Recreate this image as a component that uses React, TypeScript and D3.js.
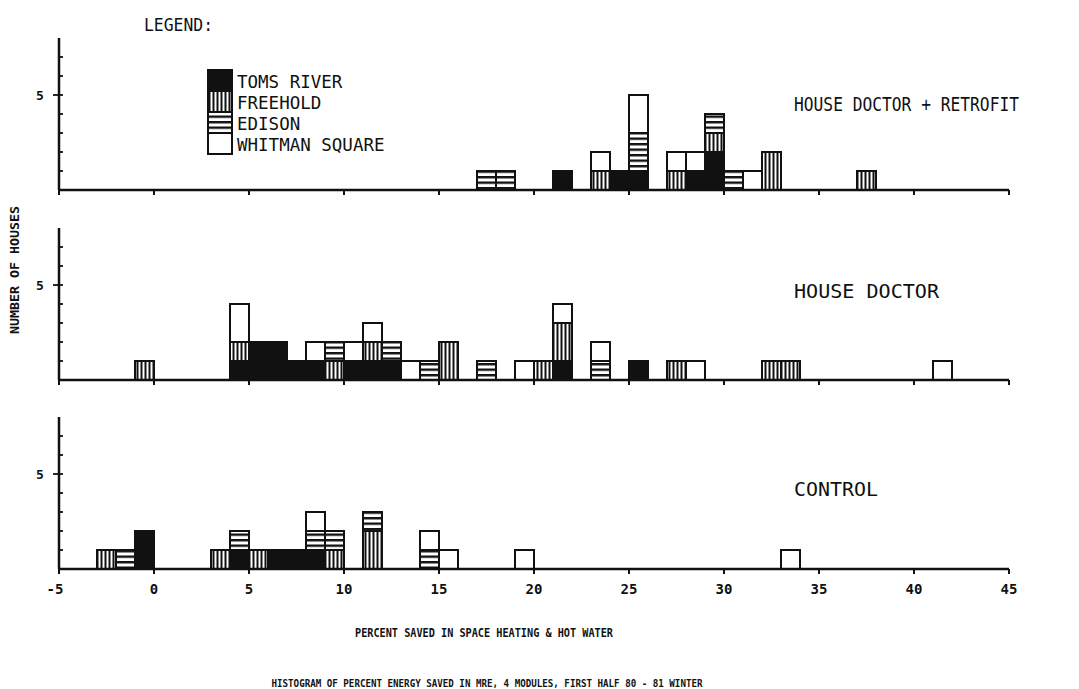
import React, { useEffect, useRef } from "react";
import * as d3 from "d3";

// stacking order, bottom to top
const cityKeys = ["toms", "freehold", "edison", "whitman"];
const cityLabels = ["TOMS RIVER", "FREEHOLD", "EDISON", "WHITMAN SQUARE"];

// HOUSE DOCTOR + RETROFIT : bin start (percent) and houses per city
const retrofitBins = [17, 18, 21, 23, 24, 25, 27, 28, 29, 30, 31, 32, 37];
const retrofitToms = [0, 0, 1, 0, 1, 1, 0, 1, 2, 0, 0, 0, 0];
const retrofitFreehold = [0, 0, 0, 1, 0, 0, 1, 0, 1, 0, 0, 2, 1];
const retrofitEdison = [1, 1, 0, 0, 0, 2, 0, 0, 1, 1, 0, 0, 0];
const retrofitWhitman = [0, 0, 0, 1, 0, 2, 1, 1, 0, 0, 1, 0, 0];

// HOUSE DOCTOR
const doctorBins = [-1, 4, 5, 6, 7, 8, 9, 10, 11, 12, 13, 14, 15, 17, 19, 20, 21, 23, 25, 27, 28, 32, 33, 41];
const doctorToms = [0, 1, 2, 2, 1, 1, 0, 1, 1, 1, 0, 0, 0, 0, 0, 0, 1, 0, 1, 0, 0, 0, 0, 0];
const doctorFreehold = [1, 1, 0, 0, 0, 0, 1, 0, 1, 0, 0, 0, 2, 0, 0, 1, 2, 0, 0, 1, 0, 1, 1, 0];
const doctorEdison = [0, 0, 0, 0, 0, 0, 1, 0, 0, 1, 0, 1, 0, 1, 0, 0, 0, 1, 0, 0, 0, 0, 0, 0];
const doctorWhitman = [0, 2, 0, 0, 0, 1, 0, 1, 1, 0, 1, 0, 0, 0, 1, 0, 1, 1, 0, 0, 1, 0, 0, 1];

// CONTROL
const controlBins = [-3, -2, -1, 3, 4, 5, 6, 7, 8, 9, 11, 14, 15, 19, 33];
const controlToms = [0, 0, 2, 0, 1, 0, 1, 1, 1, 0, 0, 0, 0, 0, 0];
const controlFreehold = [1, 0, 0, 1, 0, 1, 0, 0, 0, 1, 2, 0, 0, 0, 0];
const controlEdison = [0, 1, 0, 0, 1, 0, 0, 0, 1, 1, 1, 1, 0, 0, 0];
const controlWhitman = [0, 0, 0, 0, 0, 0, 0, 0, 1, 0, 0, 1, 1, 1, 1];

const panelTitles = ["HOUSE DOCTOR + RETROFIT", "HOUSE DOCTOR", "CONTROL"];
const xTicks = [-5, 0, 5, 10, 15, 20, 25, 30, 35, 40, 45];
const yTicks = [1, 2, 3, 4, 5, 6, 7];
const yLabelTick = 5;

const FONT = "'DejaVu Sans Mono', monospace";

function makeRows(bins, t, f, e, w) {
  return bins.map((b, i) => ({ bin: b, toms: t[i], freehold: f[i], edison: e[i], whitman: w[i] }));
}

const panels = [
  makeRows(retrofitBins, retrofitToms, retrofitFreehold, retrofitEdison, retrofitWhitman),
  makeRows(doctorBins, doctorToms, doctorFreehold, doctorEdison, doctorWhitman),
  makeRows(controlBins, controlToms, controlFreehold, controlEdison, controlWhitman),
];

export default function App() {
  const ref = useRef(null);

  useEffect(() => {
    const svg = d3.select(ref.current);
    svg.selectAll("*").remove();

    const fills = {
      toms: "#111",
      freehold: "url(#vstripe)",
      edison: "url(#hstripe)",
      whitman: "#fff",
    };

    // hatch patterns for the two striped cities
    const defs = svg.append("defs");
    const vp = defs
      .append("pattern")
      .attr("id", "vstripe")
      .attr("patternUnits", "userSpaceOnUse")
      .attr("width", 4)
      .attr("height", 4);
    vp.append("rect").attr("width", 4).attr("height", 4).attr("fill", "#fff");
    vp.append("rect").attr("x", 0.5).attr("width", 2).attr("height", 4).attr("fill", "#111");

    const hp = defs
      .append("pattern")
      .attr("id", "hstripe")
      .attr("patternUnits", "userSpaceOnUse")
      .attr("width", 4)
      .attr("height", 5.5);
    hp.append("rect").attr("width", 4).attr("height", 5.5).attr("fill", "#fff");
    hp.append("rect").attr("y", 0).attr("width", 4).attr("height", 2.4).attr("fill", "#111");

    const x = d3.scaleLinear().domain([-5, 45]).range([59, 1009]);
    const baselines = [190, 380, 569];
    const titleY = [111, 298, 496];
    const titleLen = [225, 145, 84];
    const stack = d3.stack().keys(cityKeys);

    panels.forEach((rows, pi) => {
      const base = baselines[pi];
      const y = d3.scaleLinear().domain([0, 8]).range([base, base - 152]);
      const g = svg.append("g");

      // bars
      const series = stack(rows);
      series.forEach((s) => {
        g.selectAll(null)
          .data(s.filter((d) => d[1] > d[0]))
          .join("rect")
          .attr("x", (d) => x(d.data.bin))
          .attr("width", (d) => x(d.data.bin + 1) - x(d.data.bin))
          .attr("y", (d) => y(d[1]))
          .attr("height", (d) => y(d[0]) - y(d[1]))
          .attr("fill", fills[s.key])
          .attr("stroke", "#111")
          .attr("stroke-width", 2);
      });

      // x axis
      g.append("line")
        .attr("x1", x(-5))
        .attr("x2", x(45))
        .attr("y1", base)
        .attr("y2", base)
        .attr("stroke", "#111")
        .attr("stroke-width", 2.5);
      g.selectAll(null)
        .data(xTicks)
        .join("line")
        .attr("x1", (d) => x(d))
        .attr("x2", (d) => x(d))
        .attr("y1", base)
        .attr("y2", base + 5)
        .attr("stroke", "#111")
        .attr("stroke-width", 2);

      if (pi === 2) {
        g.selectAll(null)
          .data(xTicks)
          .join("text")
          .attr("x", (d) => x(d) - (d < 0 ? 4 : 0))
          .attr("y", base + 25)
          .attr("text-anchor", "middle")
          .attr("font-family", FONT)
          .attr("font-weight", "bold")
          .attr("font-size", 14)
          .attr("fill", "#111")
          .text((d) => d);
      }

      // y axis
      g.append("line")
        .attr("x1", x(-5))
        .attr("x2", x(-5))
        .attr("y1", base)
        .attr("y2", y(8))
        .attr("stroke", "#111")
        .attr("stroke-width", 2.5);
      g.selectAll(null)
        .data(yTicks)
        .join("line")
        .attr("x1", (d) => x(-5) - (d === yLabelTick ? 6 : 0))
        .attr("x2", x(-5) + 4)
        .attr("y1", (d) => y(d))
        .attr("y2", (d) => y(d))
        .attr("stroke", "#111")
        .attr("stroke-width", 1.8);
      g.append("text")
        .attr("x", 40)
        .attr("y", y(yLabelTick) + 5)
        .attr("text-anchor", "middle")
        .attr("font-family", FONT)
        .attr("font-weight", "bold")
        .attr("font-size", 13)
        .attr("fill", "#111")
        .text(yLabelTick);

      // panel title
      g.append("text")
        .attr("x", 794)
        .attr("y", titleY[pi])
        .attr("font-family", FONT)
        .attr("font-size", 20)
        .attr("textLength", titleLen[pi])
        .attr("lengthAdjust", "spacingAndGlyphs")
        .attr("fill", "#111")
        .text(panelTitles[pi]);
    });

    // legend
    svg.append("text")
      .attr("x", 144)
      .attr("y", 31)
      .attr("font-family", FONT)
      .attr("font-size", 17)
      .attr("textLength", 69)
      .attr("lengthAdjust", "spacingAndGlyphs")
      .attr("fill", "#111")
      .text("LEGEND:");

    const legendY = d3.scaleBand().domain(cityKeys).range([70, 154]);
    const lg = svg.append("g");
    lg.selectAll(null)
      .data(cityKeys)
      .join("rect")
      .attr("x", 208)
      .attr("y", (d) => legendY(d))
      .attr("width", 24)
      .attr("height", legendY.bandwidth())
      .attr("fill", (d) => fills[d])
      .attr("stroke", "#111")
      .attr("stroke-width", 2);
    lg.selectAll(null)
      .data(cityKeys)
      .join("text")
      .attr("x", 237)
      .attr("y", (d) => legendY(d) + legendY.bandwidth() / 2 + 7)
      .attr("font-family", FONT)
      .attr("font-size", 17.5)
      .attr("fill", "#111")
      .text((d, i) => cityLabels[i]);

    // axis titles
    svg.append("text")
      .attr("transform", "translate(19,270) rotate(-90)")
      .attr("text-anchor", "middle")
      .attr("font-family", FONT)
      .attr("font-weight", "bold")
      .attr("font-size", 13)
      .attr("textLength", 128)
      .attr("lengthAdjust", "spacingAndGlyphs")
      .attr("fill", "#111")
      .text("NUMBER OF HOUSES");

    svg.append("text")
      .attr("x", 484)
      .attr("y", 637)
      .attr("text-anchor", "middle")
      .attr("font-family", FONT)
      .attr("font-weight", "bold")
      .attr("font-size", 13)
      .attr("textLength", 258)
      .attr("lengthAdjust", "spacingAndGlyphs")
      .attr("fill", "#111")
      .text("PERCENT SAVED IN SPACE HEATING & HOT WATER");

    svg.append("text")
      .attr("x", 487)
      .attr("y", 687)
      .attr("text-anchor", "middle")
      .attr("font-family", FONT)
      .attr("font-weight", "bold")
      .attr("font-size", 11)
      .attr("textLength", 431)
      .attr("lengthAdjust", "spacingAndGlyphs")
      .attr("fill", "#111")
      .text("HISTOGRAM OF PERCENT ENERGY SAVED IN MRE, 4 MODULES, FIRST HALF 80 - 81 WINTER");
  }, []);

  return (
    <svg
      ref={ref}
      width={1079}
      height={689}
      style={{ position: "absolute", left: 0, top: 0, background: "#fff" }}
    />
  );
}
